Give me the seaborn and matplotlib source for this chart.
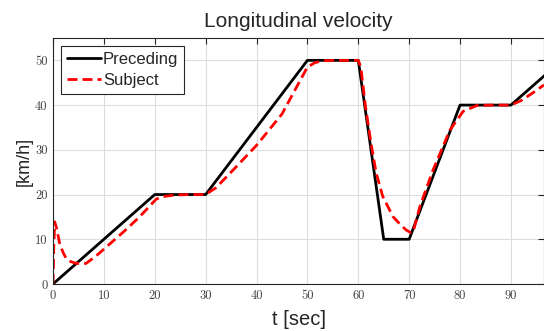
import numpy as np
import pandas as pd
import matplotlib
matplotlib.use("Agg")
import matplotlib.pyplot as plt
import seaborn as sns

# Data
prec_t = [0, 20, 30, 50, 60, 65, 70, 80, 90, 100]
prec_v = [0, 20, 20, 50, 50, 10, 10, 40, 40, 50]

subj_t = [0, 0.15, 0.33, 0.7, 1.3, 2.0, 2.6, 3.5, 4.6, 6.5, 8.5, 10.5, 14, 17, 20.3, 22, 24, 27, 30,
          32, 35, 40, 45, 50, 51.5, 53, 55, 60, 60.5, 61.4, 62.5, 63.5, 64.8, 66.8, 68.5, 69.5, 70.3,
          70.8, 72.1, 74.7, 78, 80.6, 83.3, 86, 90, 92, 94, 96.5]
subj_v = [0, 8, 13.9, 12.5, 9.1, 7.0, 5.7, 5.0, 4.6, 4.6, 6.3, 8.3, 11.8, 15, 19.0, 19.6, 19.9, 20, 20,
          21.5, 25, 31, 38, 48.5, 49.5, 49.9, 50, 50, 48.5, 39.8, 31.5, 24.9, 19.6, 15.1, 13.0, 12.0, 11.5,
          11.7, 17.3, 25.5, 34.4, 38.6, 39.9, 40, 40, 41, 42.5, 44.5]

x_ticks = [0, 10, 20, 30, 40, 50, 60, 70, 80, 90]
y_ticks = [0, 10, 20, 30, 40, 50]

sns.set_style("white")
plt.rcParams['font.family'] = ['Liberation Sans', 'DejaVu Sans']

df_p = pd.DataFrame({"t": prec_t, "v": prec_v})
df_s = pd.DataFrame({"t": subj_t, "v": subj_v})

fig = plt.figure(figsize=(5.44, 3.31), dpi=100)
ax = fig.add_axes([53 / 544, 47 / 331, 1 - 53 / 544, (284 - 38) / 331])

sns.lineplot(data=df_p, x="t", y="v", ax=ax, color="black", linewidth=2.0,
             label="Preceding", sort=False, estimator=None)
sns.lineplot(data=df_s, x="t", y="v", ax=ax, color="#ff0000", linewidth=2.0,
             linestyle=(0, (3.6, 1.8)), label="Subject", sort=False, estimator=None)

ax.set_xlim(0, 96.5)
ax.set_ylim(0, 55)
ax.set_xticks(x_ticks)
ax.set_yticks(y_ticks)
ax.set_xticklabels([str(v) for v in x_ticks], family="cmr10", fontsize=9)
ax.set_yticklabels([str(v) for v in y_ticks], family="cmr10", fontsize=9)
ax.grid(True, color="#dddddd", linewidth=0.8)
ax.tick_params(direction="in", top=True, right=True, length=4, width=0.8,
               colors="#262626", labelcolor="#404040", pad=4)
for s in ax.spines.values():
    s.set_color("#262626")
    s.set_linewidth(0.8)

ax.set_title("Longitudinal velocity", fontsize=15, pad=8)
ax.set_xlabel("t [sec]", fontsize=14.5, labelpad=6, color="#262626")
ax.set_ylabel("[km/h]", fontsize=13, labelpad=1.5, color="#262626")

leg = ax.legend(loc="upper left", fontsize=12, frameon=True, fancybox=False,
                edgecolor="#262626", framealpha=1, borderaxespad=0.5,
                handlelength=2.0, handletextpad=0.15, borderpad=0.35, labelspacing=0.35)
leg.get_frame().set_linewidth(0.8)

fig.savefig("out.png", dpi=100)
